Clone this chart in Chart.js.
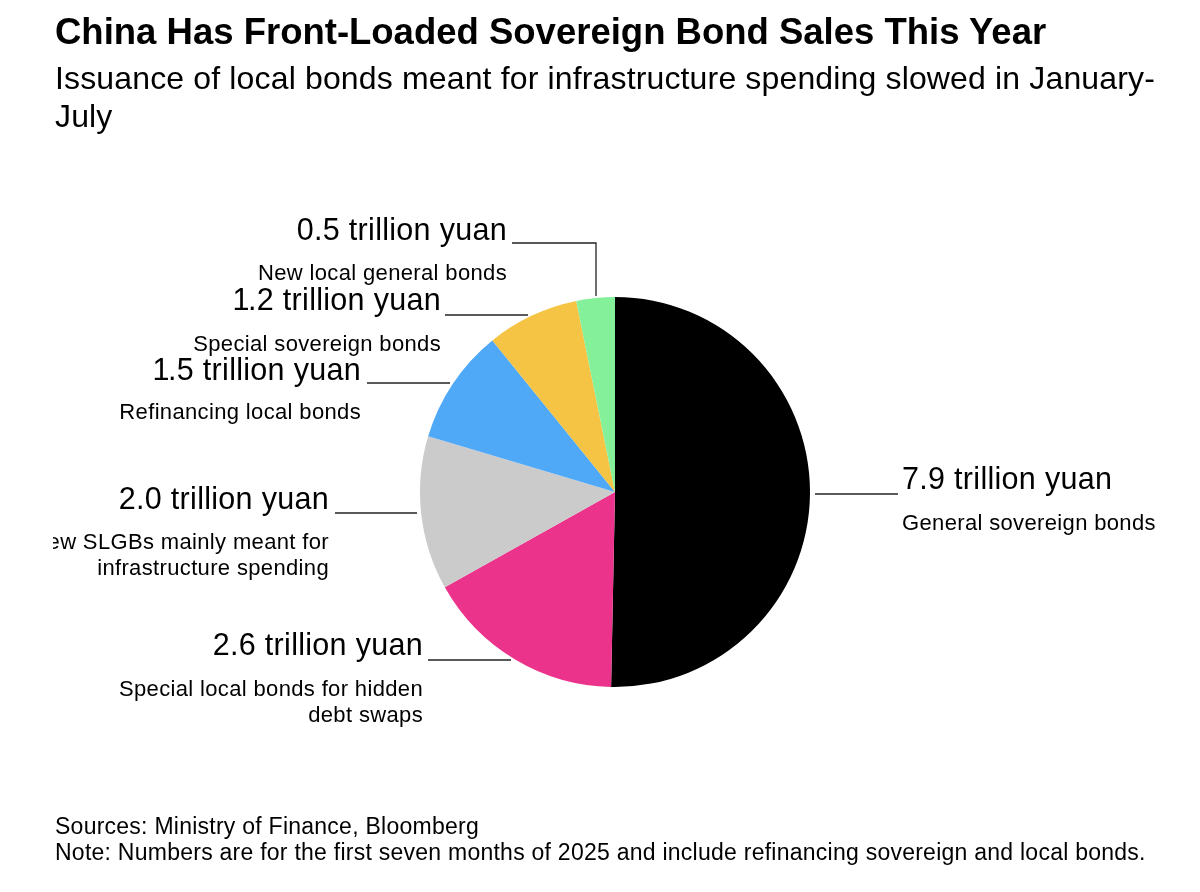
<!DOCTYPE html>
<html><head><meta charset="utf-8">
<script src="https://cdn.jsdelivr.net/npm/chart.js@4/dist/chart.umd.min.js"></script>
<style>
html,body{margin:0;padding:0;background:#fff;width:1200px;height:892px;overflow:hidden}
body{position:relative;font-family:"Liberation Sans",Arial,sans-serif;color:#000}
canvas{position:absolute;left:0;top:0}
.t{position:absolute;white-space:nowrap;line-height:1}
#clip{position:absolute;left:53px;top:0;width:1147px;height:892px;overflow:hidden}
.big{font-size:30.5px;letter-spacing:.3px}
.small{font-size:22px;letter-spacing:.35px;text-align:right}
.one{letter-spacing:-1.5px}
</style></head><body>
<div style="position:relative;width:1200px;height:892px"><canvas id="c" width="1200" height="892"></canvas></div>
<div class="t" style="left:55px;top:14px;font-size:36.5px;font-weight:700">China Has Front-Loaded Sovereign Bond Sales This Year</div>
<div class="t" style="left:55px;top:59px;font-size:32px;line-height:38px;letter-spacing:.15px">Issuance of local bonds meant for infrastructure spending slowed in January-<br>July</div>
<div id="clip"></div>
<div class="t" style="left:55px;top:813px;font-size:23px;line-height:26px;letter-spacing:.25px">Sources: Ministry of Finance, Bloomberg<br>Note: Numbers are for the first seven months of 2025 and include refinancing sovereign and local bonds.</div>
<script>
const categories=["General sovereign bonds","Special local bonds for hidden debt swaps","New SLGBs mainly meant for infrastructure spending","Refinancing local bonds","Special sovereign bonds","New local general bonds"];
const values=[7.9,2.6,2.0,1.5,1.2,0.5];
const colors=["#000000","#eb338b","#cbcbcb","#4fa9f7","#f5c445","#84f09a"];
const valueLabels=["7.9 trillion yuan","2.6 trillion yuan","2.0 trillion yuan","1.5 trillion yuan","1.2 trillion yuan","0.5 trillion yuan"];
const subLabels=[["General sovereign bonds"],["Special local bonds for hidden","debt swaps"],["New SLGBs mainly meant for","infrastructure spending"],["Refinancing local bonds"],["Special sovereign bonds"],["New local general bonds"]];
// annotation layout: text anchor x, big-label top, sub-label top, side
const anchors=[[902,463,510,'l'],[423,629,676,'r'],[329,483,529,'r'],[361,354,399,'r'],[441,284,331,'r'],[507,214,260,'r']];
const leaders=[[[815,494],[898,494]],[[428,660],[511,660]],[[335,513],[417,513]],[[367,383],[450,383]],[[445,315],[528,315]],[[512,243],[596,243],[596,296]]];
const clip=document.getElementById('clip');
anchors.forEach((a,i)=>{
  const pos=a[3]==='l'?`left:${a[0]-53}px`:`right:${1200-a[0]}px`;
  const txt=valueLabels[i].replace(/^1/,'<span class="one">1</span>');
  clip.insertAdjacentHTML('beforeend',`<div class="t big" style="${pos};top:${a[1]}px">${txt}</div>`);
  clip.insertAdjacentHTML('beforeend',`<div class="t small" style="${pos};top:${a[2]}px;line-height:26px;text-align:${a[3]==='l'?'left':'right'}">${subLabels[i].join('<br>')}</div>`);
});
const leaderPlugin={id:'leaders',afterDraw(ch){const x=ch.ctx;x.save();x.strokeStyle='#222';x.lineWidth=1.3;
  leaders.forEach(p=>{x.beginPath();p.forEach((q,i)=>i?x.lineTo(q[0],q[1]):x.moveTo(q[0],q[1]));x.stroke();});x.restore();}};
new Chart(document.getElementById('c'),{type:'pie',
 data:{labels:categories,datasets:[{data:values,backgroundColor:colors,borderWidth:0}]},
 options:{responsive:false,animation:false,layout:{padding:{left:420,right:390,top:297,bottom:205}},
  plugins:{legend:{display:false},tooltip:{enabled:false},title:{display:false}}},
 plugins:[leaderPlugin]});
</script>
</body></html>
